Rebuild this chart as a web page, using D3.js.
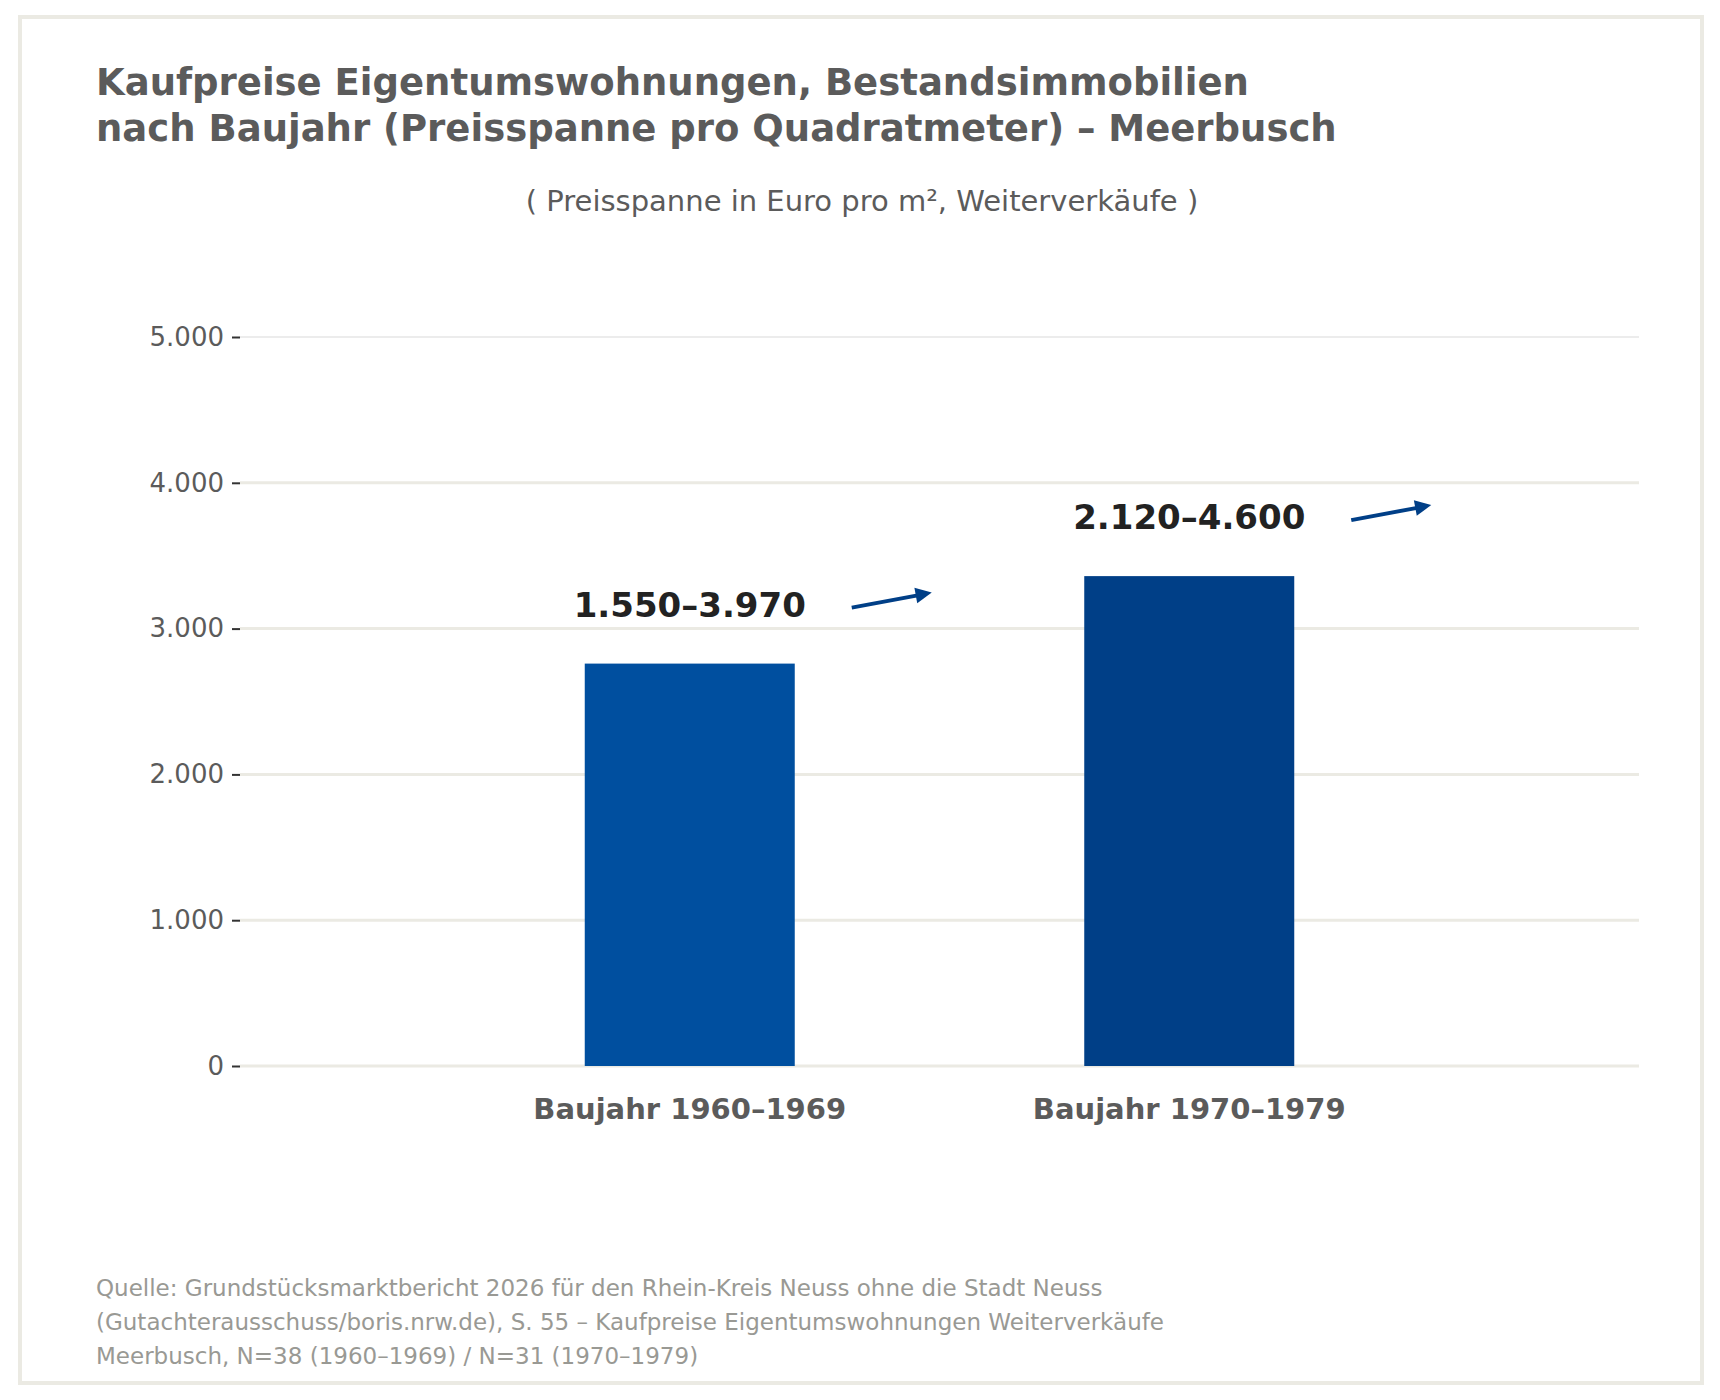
<!DOCTYPE html>
<html><head><meta charset="utf-8">
<script src="https://cdn.jsdelivr.net/npm/d3@7"></script>
<style>body{margin:0;background:#fff}svg{font-family:"DejaVu Sans",sans-serif}</style>
</head><body>
<svg id="c" width="1720" height="1400"></svg>
<script>
const categories = ["Baujahr 1960–1969", "Baujahr 1970–1979"];
const mids = [2760, 3360];
const rangeLabels = ["1.550–3.970", "2.120–4.600"];
const yTicks = [0, 1000, 2000, 3000, 4000, 5000];
const colors = ["#004f9f", "#003f87"];

const svg = d3.select("#c");
svg.append("rect").attr("x",20).attr("y",17).attr("width",1682).attr("height",1366)
  .attr("fill","#fff").attr("stroke","#ebeae3").attr("stroke-width",4);
svg.append("text").attr("x",96).attr("y",95).attr("font-size",37).attr("font-weight","bold").attr("fill","#5b5b5b").text("Kaufpreise Eigentumswohnungen, Bestandsimmobilien");
svg.append("text").attr("x",96).attr("y",141).attr("font-size",37).attr("font-weight","bold").attr("fill","#5b5b5b").text("nach Baujahr (Preisspanne pro Quadratmeter) – Meerbusch");
svg.append("text").attr("x",862).attr("y",211).attr("text-anchor","middle").attr("font-size",29).attr("fill","#5b5b5b").text("( Preisspanne in Euro pro m², Weiterverkäufe )");

const y = d3.scaleLinear().domain([0,5000]).range([1066,337]);
const x = d3.scaleBand().domain(categories).range([440,1439]).paddingInner(0).paddingOuter(0);
const L=240, R=1639;
yTicks.forEach(t=>{
  svg.append("line").attr("x1",L).attr("x2",R).attr("y1",y(t)).attr("y2",y(t))
    .attr("stroke",t===5000?"#ececec":"#ebeae3").attr("stroke-width",t===5000?2:3);
});
const ya = svg.append("g").attr("transform",`translate(${L},0)`).call(d3.axisLeft(y).tickValues(yTicks).tickSize(8).tickPadding(8).tickFormat(d=>d3.format(",")(d).replace(/,/g,".")));
ya.select(".domain").remove();
ya.selectAll("line").attr("stroke","#333").attr("stroke-width",2);
ya.selectAll("text").attr("font-size",26).attr("fill","#5b5b5b").attr("font-family","DejaVu Sans");

const bw=210;
categories.forEach((c,i)=>{
  const cx = x(c)+x.bandwidth()/2;
  svg.append("rect").attr("x",cx-bw/2).attr("width",bw).attr("y",y(mids[i])).attr("height",y(0)-y(mids[i])).attr("fill",colors[i]);
  svg.append("text").attr("x",cx).attr("y",1119).attr("text-anchor","middle").attr("font-size",29).attr("font-weight","bold").attr("fill","#5b5b5b").text(c);
  const ly = y(mids[i]) - 47;
  svg.append("text").attr("x",cx).attr("y",ly).attr("text-anchor","middle").attr("font-size",34).attr("font-weight","bold").attr("fill","#222").text(rangeLabels[i]);
  const ax = cx+162, ay = ly-9;
  svg.append("line").attr("x1",ax).attr("y1",ay).attr("x2",ax+70).attr("y2",ay-13).attr("stroke","#003f87").attr("stroke-width",4);
  const tx=ax+80, ty=ay-15, ang=Math.atan2(-13,70);
  const p=(a,r)=>[tx-Math.cos(ang+a)*r, ty-Math.sin(ang+a)*r];
  svg.append("path").attr("d",`M${tx},${ty}L${p(0.45,18)}L${p(-0.45,18)}Z`).attr("fill","#003f87");
});

const src=["Quelle: Grundstücksmarktbericht 2026 für den Rhein-Kreis Neuss ohne die Stadt Neuss",
"(Gutachterausschuss/boris.nrw.de), S. 55 – Kaufpreise Eigentumswohnungen Weiterverkäufe",
"Meerbusch, N=38 (1960–1969) / N=31 (1970–1979)"];
src.forEach((s,i)=>svg.append("text").attr("x",96).attr("y",1296+i*34).attr("font-size",23).attr("fill","#999994").text(s));
</script>
</body></html>
